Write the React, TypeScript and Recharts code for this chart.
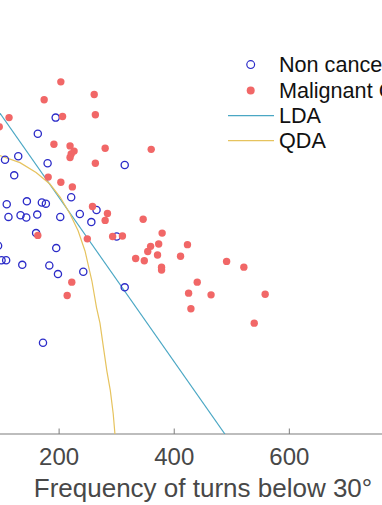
import { Legend, Scatter, ScatterChart, XAxis, YAxis } from "recharts";

// values: [frequency of turns below 30°, y]
const nonCancerous: [number, number][] = [
  [194, 548], [163, 520], [106, 475], [129, 481], [180, 469], [314, 466],
  [122, 448], [221, 410], [109, 398], [144, 403], [170, 401], [177, 399],
  [112, 376], [133, 379], [143, 375], [162, 380], [202, 376], [236, 381],
  [265, 388], [256, 367], [160, 348], [300, 342], [195, 322], [94, 326],
  [100, 301], [108, 301], [136, 293], [183, 292], [198, 277], [242, 281],
  [314, 254], [172, 158],
];

const malignant: [number, number][] = [
  [203, 610], [174, 579], [261, 588], [113, 548], [96, 532], [206, 550],
  [263, 553], [191, 502], [219, 499], [226, 490], [221, 485], [219, 479],
  [280, 495], [360, 493], [263, 469], [181, 445], [203, 436], [223, 428],
  [258, 394], [284, 382], [280, 370], [346, 372], [163, 344], [249, 338],
  [293, 342], [310, 343], [379, 348], [373, 329], [359, 325], [354, 316],
  [371, 310], [423, 328], [411, 308], [333, 304], [348, 300], [378, 289],
  [378, 284], [440, 263], [425, 244], [429, 217], [491, 299], [521, 289],
  [464, 241], [558, 242], [539, 192], [222, 263], [214, 240],
];

const ldaBoundary: [number, number][] = [
  [0, 694], [488, 0],
];

const qdaBoundary: [number, number][] = [
  [80, 487], [98, 482], [132, 470], [160, 453], [184, 433], [202, 410],
  [219, 381], [233, 352], [245, 317], [257, 265], [265, 219], [271, 192],
  [277, 150], [283, 109], [289, 75], [294, 35], [297, 0],
];

// 800 sits just past the right edge of the crop, so only these show
const xTicks = [200, 400, 600];

const toPoints = (list: [number, number][]) => list.map(([x, y]) => ({ x, y }));

const FONT = "'Liberation Sans', Arial, Helvetica, sans-serif";
const BLUE = "#2b2bc8";
const RED = "#f16767";
const LDA_COLOR = "#4aa7c4";
const QDA_COLOR = "#e6c35e";
const AXIS = "#7d7d7d";
const TEXT = "#484848";

function OpenCircle(props: any) {
  return <circle cx={props.cx} cy={props.cy} r={3.6} fill="none" stroke={BLUE} strokeWidth={1.3} />;
}

function Dot(props: any) {
  return <circle cx={props.cx} cy={props.cy} r={3.7} fill={RED} />;
}

function NoMark() {
  return <g />;
}

function XTick({ x, y, payload }: any) {
  return (
    <g>
      <line x1={x} x2={x} y1={y} y2={y - 5.5} stroke={AXIS} strokeWidth={1} />
      <text x={x} y={y + 31} textAnchor="middle" fill={TEXT} fontSize={24} fontFamily={FONT}>
        {payload.value}
      </text>
    </g>
  );
}

function XLabel(props: any) {
  const vb = props.viewBox;
  return (
    <text
      x={vb.x + vb.width / 2}
      y={vb.y + 62.7}
      textAnchor="middle"
      fill={TEXT}
      fontSize={26}
      fontFamily={FONT}
    >
      Frequency of turns below 30°
    </text>
  );
}

const legendRows = [
  { name: "Non cancerous", kind: "circle" },
  { name: "Malignant Cancer", kind: "dot" },
  { name: "LDA", kind: "lda" },
  { name: "QDA", kind: "qda" },
];

function LegendBox() {
  return (
    <div style={{ fontFamily: FONT, fontSize: 21.6, color: "#111", whiteSpace: "nowrap" }}>
      {legendRows.map((row) => (
        <div key={row.name} style={{ display: "flex", alignItems: "center", height: 25.3, lineHeight: "25.3px" }}>
          <svg width={51} height={25.3} style={{ flex: "none" }}>
            {row.kind === "circle" ? <circle cx={22.7} cy={12.6} r={3.9} fill="none" stroke={BLUE} strokeWidth={1.2} /> : null}
            {row.kind === "dot" ? <circle cx={22.7} cy={12.6} r={4} fill={RED} /> : null}
            {row.kind === "lda" ? <line x1={0} x2={46} y1={12.6} y2={12.6} stroke={LDA_COLOR} strokeWidth={1.2} /> : null}
            {row.kind === "qda" ? <line x1={0} x2={46} y1={12.6} y2={12.6} stroke={QDA_COLOR} strokeWidth={1.2} /> : null}
          </svg>
          <span>{row.name}</span>
        </div>
      ))}
    </div>
  );
}

export default function App() {
  return (
    <div style={{ position: "fixed", left: 0, top: 0, width: 382, height: 505, overflow: "hidden", background: "#fff" }}>
      <div style={{ position: "absolute", left: -56.2, top: 0 }}>
        <ScatterChart width={518} height={505} margin={{ top: 1, right: 0, bottom: 0, left: 0 }}>
          <XAxis
            type="number"
            dataKey="x"
            domain={[0, 900]}
            ticks={xTicks}
            allowDataOverflow
            height={71}
            tickSize={0}
            tickMargin={0}
            tickLine={false}
            axisLine={{ stroke: AXIS, strokeWidth: 1.2 }}
            tick={<XTick />}
            label={XLabel}
          />
          <YAxis type="number" dataKey="y" domain={[0, 750]} allowDataOverflow hide />
          <Legend
            layout="horizontal"
            align="center"
            verticalAlign="middle"
            content={<LegendBox />}
            wrapperStyle={{ left: 284.2, top: 52.4, width: 260 }}
          />
          <Scatter name="LDA" data={toPoints(ldaBoundary)} line={{ stroke: LDA_COLOR, strokeWidth: 1.2 }} lineType="joint" shape={<NoMark />} isAnimationActive={false} />
          <Scatter name="QDA" data={toPoints(qdaBoundary)} line={{ stroke: QDA_COLOR, strokeWidth: 1.2 }} lineType="joint" shape={<NoMark />} isAnimationActive={false} />
          <Scatter name="Non cancerous" data={toPoints(nonCancerous)} shape={<OpenCircle />} isAnimationActive={false} />
          <Scatter name="Malignant Cancer" data={toPoints(malignant)} shape={<Dot />} isAnimationActive={false} />
        </ScatterChart>
      </div>
    </div>
  );
}
